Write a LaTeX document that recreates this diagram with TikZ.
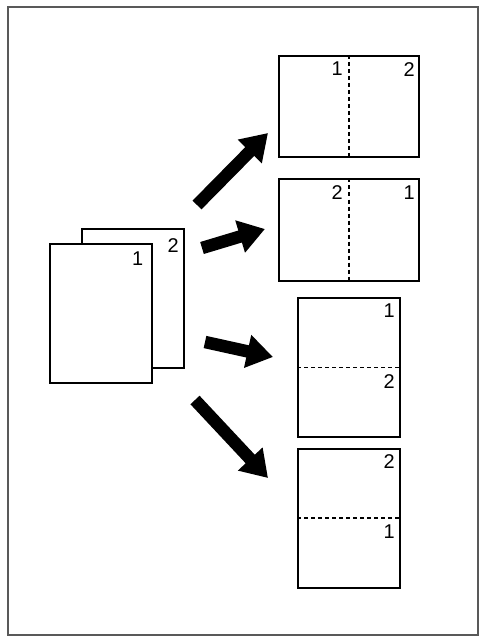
\documentclass[tikz,border=0pt]{standalone}
\usepackage{fontspec}
\setsansfont{Liberation Sans}
\usepackage{tikz}
\usetikzlibrary{positioning}
\usetikzlibrary{arrows.meta}

\begin{document}
\begin{tikzpicture}[x = 1bp, y = -1bp,
  page/.style = {draw, line width = 2bp, fill = white, inner sep = 0pt},
  tall/.style = {page, minimum width = 102bp, minimum height = 139bp},
  wide/.style = {page, minimum width = 140bp, minimum height = 101bp},
  num/.style = {inner sep = 0pt, anchor = north east, font = \sffamily\fontsize{20}{20}\selectfont},
  fold/.style = {line width = 1.8bp, dash pattern = on 4bp off 3bp},
  bigarrow/.style = {line width = 12.5bp, -{Triangle[length = 26bp, width = 32bp]}}
]
\useasboundingbox (0,0) rectangle (484,642);
\draw[line width = 1.8bp, black!65] (8,7) rectangle (478,635);

% the two originals
\node[tall] (back) at (133,298.5) {};
\node[num] (back-2) at ([shift={(-6,10)}]back.north east) {2};
\node[tall] (front) at (100.5,313) {};
\node[num] (front-1) at ([shift={(-9,9)}]front.north east) {1};

% landscape results
\node[wide] (resA) at (349,106.5) {};
\draw[fold] (resA.north) -- (resA.south);
\node[num] (resA-1) at ([shift={(-6,7)}]resA.north) {1};
\node[num] (resA-2) at ([shift={(-5,7)}]resA.north east) {2};

\node[wide] (resB) at (349,230) {};
\draw[fold] (resB.north) -- (resB.south);
\node[num] (resB-2) at ([shift={(-6,7)}]resB.north) {2};
\node[num] (resB-1) at ([shift={(-5,7)}]resB.north east) {1};

% portrait results
\node[tall] (resC) at (349,367.5) {};
\draw[fold] (resC.west) -- (resC.east);
\node[num] (resC-1) at ([shift={(-6,7)}]resC.north east) {1};
\node[num] (resC-2) at ([shift={(-6,7)}]resC.east) {2};

\node[tall] (resD) at (349,518) {};
\draw[fold] (resD.west) -- (resD.east);
\node[num] (resD-2) at ([shift={(-6,7)}]resD.north east) {2};
\node[num] (resD-1) at ([shift={(-6,7)}]resD.east) {1};

% arrows
\coordinate (tailA) at (197,205); \coordinate (tipA) at (268,133);
\coordinate (tailB) at (202,248); \coordinate (tipB) at (265,229);
\coordinate (tailC) at (205,342); \coordinate (tipC) at (273,357);
\coordinate (tailD) at (195,400); \coordinate (tipD) at (268,478);
\foreach \r in {A,B,C,D}
  \draw[bigarrow] (tail\r) -- (tip\r);
\end{tikzpicture}
\end{document}
